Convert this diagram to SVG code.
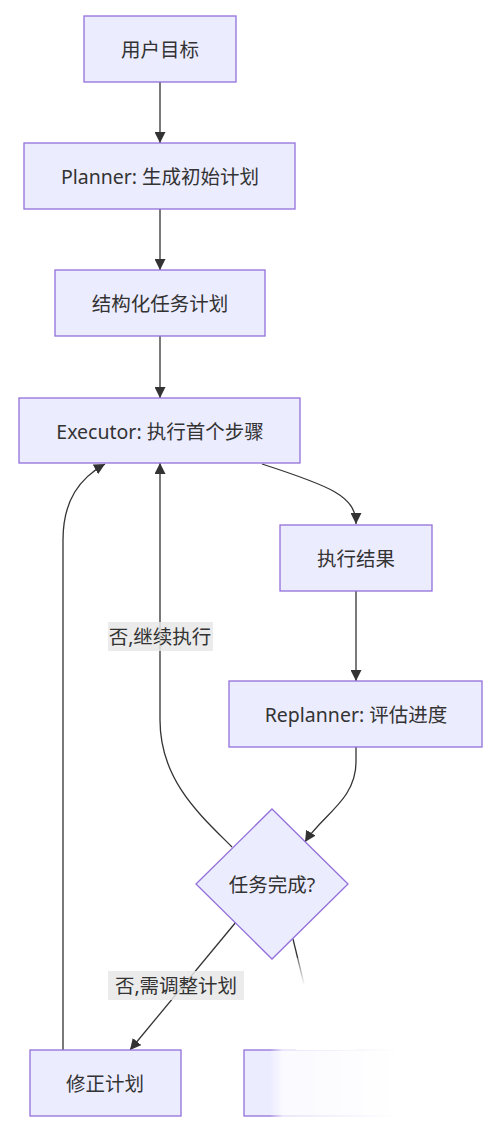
<svg xmlns="http://www.w3.org/2000/svg" width="498" height="1130" viewBox="0 0 498 1130">
<style>
.node{fill:#ECECFF;stroke:#9370DB;stroke-width:1.3}
.t{font-family:"Noto Sans","Noto Sans CJK SC",sans-serif;font-size:19.5px;fill:#333;text-anchor:middle;dominant-baseline:central}
.e{fill:none;stroke:#333;stroke-width:1.3}
.lb{fill:#E8E8E8;opacity:0.85}
</style>
<defs>
<marker id="ah" viewBox="0 0 10 10" refX="10" refY="5" markerWidth="11" markerHeight="11" markerUnits="userSpaceOnUse" orient="auto">
<path d="M0,0 L10,5 L0,10 z" fill="#333"/>
</marker>
<linearGradient id="fadeH" x1="0" y1="0" x2="1" y2="0">
<stop offset="0" stop-color="#fff" stop-opacity="0"/>
<stop offset="0.08" stop-color="#fff" stop-opacity="0.75"/>
<stop offset="0.8" stop-color="#fff" stop-opacity="1"/>
</linearGradient>
<linearGradient id="fadeV" x1="0" y1="0" x2="0" y2="1">
<stop offset="0" stop-color="#fff" stop-opacity="0.3"/>
<stop offset="0.3" stop-color="#fff" stop-opacity="1"/>
</linearGradient>
</defs>
<g id="edges">
<path class="e" d="M160,82 L160,143" marker-end="url(#ah)"/>
<path class="e" d="M160,209 L160,270" marker-end="url(#ah)"/>
<path class="e" d="M160,336 L160,398" marker-end="url(#ah)"/>
<path class="e" d="M262,464 C330,486 356,496 356,524" marker-end="url(#ah)"/>
<path class="e" d="M356,591 L356,681" marker-end="url(#ah)"/>
<path class="e" d="M356,747 L356,762 C356,800 322,815 305,842" marker-end="url(#ah)"/>
<path class="e" d="M232,847 C200,815 160,780 160,720 L160,463" marker-end="url(#ah)"/>
<path class="e" d="M236,922 L130,1050" marker-end="url(#ah)"/>
<path class="e" d="M293,939 L320,1050"/>
<path class="e" d="M63,1050 L63,540 C63,500 80,478 105,464" marker-end="url(#ah)"/>
</g>
<g id="n1"><rect class="node" x="84" y="16" width="152" height="66"/><text class="t" x="160" y="49">用户目标</text></g>
<g id="n2"><rect class="node" x="24" y="143" width="271" height="66"/><text class="t" x="160" y="176">Planner: 生成初始计划</text></g>
<g id="n3"><rect class="node" x="55" y="270" width="210" height="66"/><text class="t" x="160" y="303">结构化任务计划</text></g>
<g id="n4"><rect class="node" x="19" y="398" width="281" height="65"/><text class="t" x="160" y="431">Executor: 执行首个步骤</text></g>
<g id="n5"><rect class="node" x="280" y="525" width="152" height="66"/><text class="t" x="356" y="558">执行结果</text></g>
<g id="n6"><rect class="node" x="229" y="681" width="253" height="66"/><text class="t" x="356" y="714">Replanner: 评估进度</text></g>
<g id="n7"><polygon class="node" points="272,809 348,884 272,959 196,884"/><text class="t" x="272" y="884">任务完成?</text></g>
<g id="n8"><rect class="node" x="30" y="1050" width="151" height="66"/><text class="t" x="105" y="1083">修正计划</text></g>
<g id="n9"><rect class="node" x="244" y="1050" width="152" height="66"/></g>
<g id="labels">
<rect class="lb" x="108" y="622" width="105" height="29"/><text class="t" x="160" y="636">否,继续执行</text>
<rect class="lb" x="108" y="971" width="136" height="29"/><text class="t" x="176" y="985">否,需调整计划</text>
</g>
<g id="fade">
<rect x="296" y="958" width="60" height="92" fill="url(#fadeV)"/>
<rect x="270" y="1040" width="160" height="90" fill="url(#fadeH)"/>
</g>
</svg>
